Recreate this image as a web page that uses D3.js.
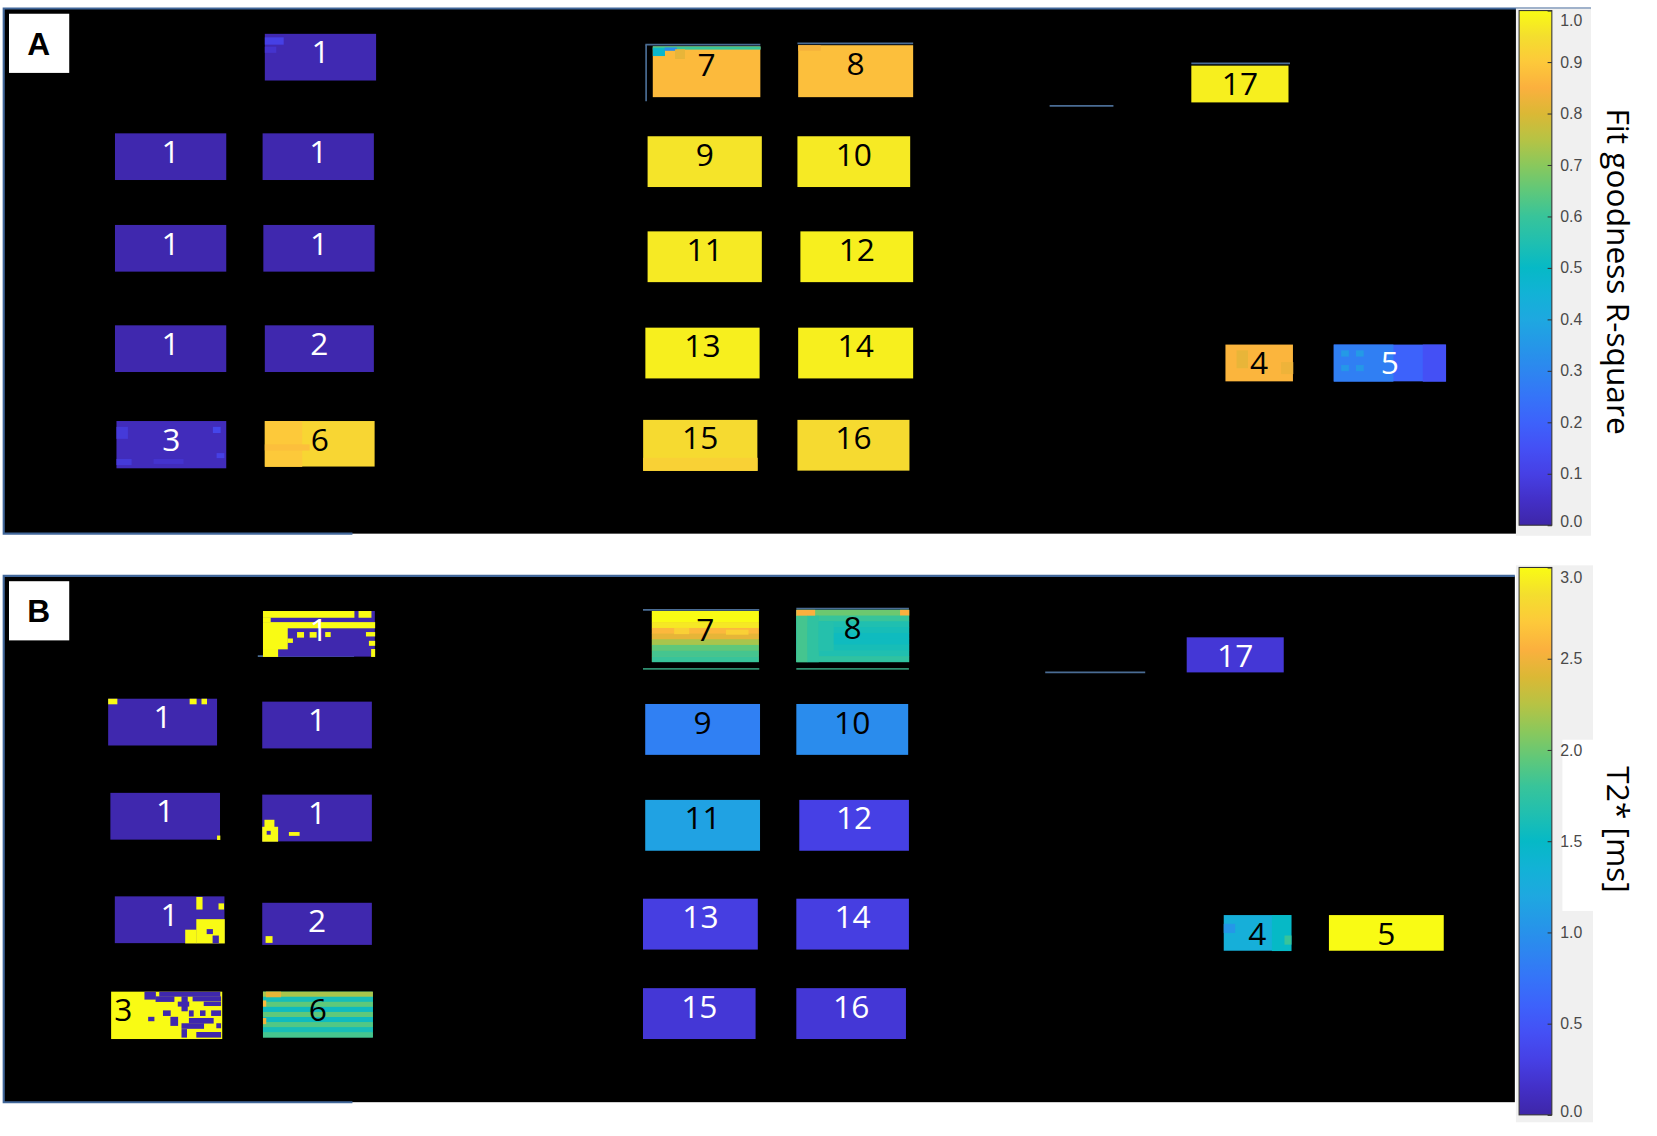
<!DOCTYPE html>
<html>
<head>
<meta charset="utf-8">
<script src="https://cdn.jsdelivr.net/npm/d3@7"></script>
<style>
  body { margin: 0; background: #fff; }
</style>
</head>
<body>
<div id="chart"></div>
<script>
// parula colour map, stops at 0, 0.05, ... 1
const parulaStops = ['#3e26a8', '#4330c8', '#4640e5', '#4450f5', '#3d62fb', '#3574f8', '#2d86f0', '#2597e8',
  '#1ea8e0', '#12b2d6', '#06b9c6', '#20bfb0', '#38c49a', '#5fc87a', '#8ac85c', '#b7c344', '#dbb835',
  '#fbb03e', '#fdc93a', '#f4de2e', '#f9fb14']

// sample order is the same in both panels
const sampleLabels = ['1', '1', '1', '1', '1', '1', '2', '3', '6', '7', '8', '9', '10', '11', '12', '13', '14', '15', '16', '17', '4', '5']

// PANEL A - fit goodness (voxel position of each sample in the image)
const aCol = [35.2, 15.0, 34.9, 15.0, 35.0, 15.0, 35.2, 15.2, 35.2, 87.5, 107.1, 86.8, 107.0, 86.8, 107.4, 86.5, 107.1, 86.2, 107.0, 160.1, 164.7, 179.3]
const aRow = [4.35, 21.4, 21.4, 37.1, 37.1, 54.3, 54.3, 70.7, 70.7, 6.5, 6.3, 21.9, 21.9, 38.2, 38.2, 54.7, 54.7, 70.5, 70.5, 9.8, 57.6, 57.6]
const aNCol = [15, 15, 15, 15, 15, 15, 14.7, 14.8, 14.8, 14.5, 15.5, 15.4, 15.2, 15.4, 15.2, 15.4, 15.5, 15.4, 15.1, 13.1, 9.1, 15.1]
const aNRow = [8, 8, 8, 8, 8, 8, 8, 8.1, 7.8, 8.7, 8.9, 8.7, 8.7, 8.7, 8.7, 8.7, 8.7, 8.7, 8.7, 6.3, 6.3, 6.3]
const aRsq = [0.015, 0.01, 0.01, 0.01, 0.01, 0.01, 0.01, 0.03, 0.93, 0.87, 0.88, 0.96, 0.97, 0.97, 0.98, 0.98, 0.98, 0.94, 0.94, 0.98, 0.86, 0.2]
// [sample, col, row, ncol, nrow, value] voxel patches inside a sample
const aPatches = [
  [0, 0, 0.6, 2.5, 1.2, 0.1], [0, 0, 2.2, 1.5, 1, 0.06],
  [7, 0, 1, 1.5, 2, 0.08], [7, 0, 6.5, 2, 1, 0.08], [7, 13, 1, 1, 1, 0.12], [7, 13.5, 5.5, 1, 0.8, 0.1], [7, 5, 6.5, 4, 0.8, 0.06],
  [8, 0, 0, 5, 7.8, 0.9], [8, 0, 4, 6, 1, 0.88],
  [9, 0, 0, 14.5, 0.5, 0.6], [9, 0, 0.3, 1.6, 1.3, 0.48], [9, 1.6, 0.2, 1.6, 0.5, 0.32], [9, 3.0, 0.5, 1.3, 1.6, 0.82],
  [10, 0, 0, 3, 0.9, 0.84],
  [17, 0, 6.5, 15.4, 2.2, 0.92],
  [20, 1.5, 1, 1.5, 3, 0.82], [20, 7.5, 3, 1.6, 2, 0.83],
  [21, 0, 0, 8, 6.3, 0.28], [21, 1, 1, 1, 1, 0.36], [21, 3, 1, 1, 1, 0.36], [21, 1, 3.5, 1, 1, 0.35], [21, 3, 3.5, 1, 1, 0.35], [21, 12, 0, 3.1, 6.3, 0.15]
]
const aTicks = [0, 0.1, 0.2, 0.3, 0.4, 0.5, 0.6, 0.7, 0.8, 0.9, 1.0]
// stray outline segments in the image [col0, col1, row0, row1]
const aEdges = [[86.5, 102, 6.2, 6.2], [86.6, 86.6, 6.2, 15.9], [107.0, 122.6, 6.0, 6.0], [160.1, 173.4, 9.4, 9.4], [141, 149.6, 16.7, 16.7]]

// PANEL B - T2* [ms]
const bCol = [35.0, 14.1, 34.9, 14.4, 34.9, 15.0, 34.9, 14.5, 35.0, 87.5, 107.0, 86.6, 107.0, 86.6, 107.4, 86.3, 107.0, 86.3, 107.0, 159.7, 164.7, 178.9]
const bRow = [6.0, 21.0, 21.5, 37.1, 37.4, 54.8, 55.9, 71.1, 71.1, 6.0, 5.8, 21.9, 21.9, 38.3, 38.3, 55.2, 55.2, 70.5, 70.5, 10.5, 58.0, 58.0]
const bNCol = [15.1, 14.7, 14.8, 14.8, 14.8, 14.8, 14.8, 15.0, 14.8, 14.4, 15.2, 15.5, 15.1, 15.5, 14.8, 15.5, 15.2, 15.2, 14.8, 13.1, 9.1, 15.5]
const bNRow = [7.8, 8, 8, 8, 8, 8, 7.2, 8.1, 7.8, 8.7, 8.9, 8.7, 8.7, 8.7, 8.7, 8.7, 8.7, 8.7, 8.7, 6.0, 6.1, 6.1]
const bT2 = [0.03, 0.03, 0.03, 0.03, 0.03, 0.03, 0.03, 3.0, 1.75, 2.4, 1.6, 0.85, 0.95, 1.15, 0.3, 0.28, 0.28, 0.22, 0.22, 0.22, 1.3, 3.0]
// row by row T2* of striped samples (top to bottom)
const bRowProfiles = {
  8: [2.2, 1.6, 1.95, 1.55, 1.95, 1.55, 1.9, 1.6, 1.85],
  9: [3.0, 3.0, 2.9, 2.6, 2.45, 2.2, 1.95, 1.85, 1.8],
  10: [2.0, 1.8, 1.65, 1.6, 1.55, 1.55, 1.6, 1.65, 1.75]
}
const bPatches = [
  [0, 0, 0, 12.3, 1.1, 3], [0, 12.9, 0, 1.7, 1.1, 3], [0, 0, 1.1, 1.0, 0.8, 3], [0, 0, 1.9, 15.1, 1.0, 3],
  [0, 0, 2.9, 3.3, 3.6, 3], [0, 0, 6.5, 2.0, 1.3, 3], [0, 4.6, 3.6, 0.9, 0.9, 3], [0, 6.3, 3.6, 0.9, 0.9, 3],
  [0, 8.4, 3.6, 0.7, 0.8, 3], [0, 3.3, 4.7, 0.7, 0.7, 3], [0, 13.9, 3.6, 1.2, 0.7, 3], [0, 14.3, 5.1, 0.8, 0.8, 3],
  [0, 14.6, 6.5, 0.5, 1.3, 3],
  [1, 0, 0, 1.2, 0.9, 3], [1, 11.0, 0, 0.9, 0.9, 3], [1, 12.6, 0, 0.7, 0.9, 3],
  [3, 14.4, 7.3, 0.4, 0.7, 3],
  [4, 0.3, 4.3, 1.3, 1.2, 3], [4, 0, 5.5, 2.1, 2.5, 3], [4, 3.6, 6.4, 1.4, 0.6, 3], [4, 0.6, 6.2, 0.5, 0.6, 0.03],
  [5, 11.0, 0.1, 0.8, 2.1, 3], [5, 14.0, 1.2, 0.7, 1.0, 3], [5, 11.0, 3.9, 3.8, 4.1, 3], [5, 9.5, 5.7, 1.5, 2.3, 3],
  [5, 12.4, 5.6, 0.8, 0.8, 0.03], [5, 13.2, 6.7, 0.8, 1.3, 0.03],
  [6, 0.45, 5.7, 0.9, 1.1, 3],
  [7, 4.5, 0, 1.5, 1.3, 0.03], [7, 6.5, 0, 8.2, 0.8, 0.03], [7, 6, 0.8, 2.5, 0.9, 0.03], [7, 9.5, 0.8, 0.8, 2.5, 0.03],
  [7, 11, 0.8, 3.8, 0.8, 0.03], [7, 9, 1.7, 1.5, 0.8, 0.03], [7, 12.5, 1.7, 2.3, 0.7, 0.03], [7, 7, 3.2, 1, 0.9, 0.03],
  [7, 10.5, 3.2, 0.6, 1, 0.03], [7, 12, 3.2, 0.7, 0.9, 0.03], [7, 13.5, 3.2, 1.3, 0.9, 0.03], [7, 5, 4.3, 0.8, 0.7, 0.03],
  [7, 8, 4.3, 1, 1.5, 0.03], [7, 10.5, 4.5, 3.3, 0.9, 0.03], [7, 9.5, 5.4, 3, 0.9, 0.03], [7, 14.2, 5.4, 0.6, 0.8, 0.03],
  [7, 9.5, 6.4, 0.7, 1.4, 0.03], [7, 11.5, 6.9, 3.3, 0.9, 0.03],
  [8, 0, 1.5, 0.4, 1, 2.6], [8, 0, 4.5, 0.4, 1, 2.5], [8, 0.4, 0, 2, 0.9, 2.45],
  [9, 3, 2.9, 2, 1, 2.75], [9, 10, 3.2, 3, 0.8, 2.75],
  [10, 0, 0, 2.5, 1.0, 2.55], [10, 14, 0, 1.2, 0.9, 2.55], [10, 0, 1, 1.5, 7.9, 1.85], [10, 1.5, 1, 1.5, 7.9, 1.75],
  [10, 3, 2, 2, 5, 1.68],
  [20, 6.5, 0, 2.6, 6.1, 1.5], [20, 8.2, 3.5, 0.9, 1.5, 1.8], [20, 0, 1.5, 1.5, 1.5, 1.05]
]
const bTicks = [0, 0.5, 1.0, 1.5, 2.0, 2.5, 3.0]
const bEdges = [[34.3, 47.3, 13.7, 13.7], [86.3, 102, 5.8, 5.8], [107, 122.2, 5.6, 5.6], [140.6, 154.1, 16.5, 16.5]]
const bGreenEdges = [[86.3, 102, 15.9, 15.9], [107, 122.2, 15.9, 15.9]]

// SVG CANVAS (drawn in a 1567 x 1075 frame, scaled to the window)
var W = 1567, H = 1075
var svg = d3.select('#chart')
  .append('svg')
  .attr('width', 1657)
  .attr('height', 1136)
  .attr('viewBox', '0 0 ' + W + ' ' + H)

function drawPanel(opts) {
  var g = svg.append('g')

  // image scales: voxel -> pixel
  var x = d3.scaleLinear().domain([0, 204]).range([opts.left, opts.right])
  var y = d3.scaleLinear().domain([0, 90]).range([opts.top, opts.bottom])
  var t = d3.scaleLinear().domain([0, opts.max]).range([0, 1]).clamp(true)
  var colour = d3.scaleLinear()
    .domain(parulaStops.map(function(d, i) { return i / (parulaStops.length - 1) }))
    .range(parulaStops)
    .interpolate(d3.interpolateRgb)
  var fill = function(v) { return colour(t(v)) }

  // BLACK IMAGE
  g.append('rect')
    .attr('x', opts.left).attr('y', opts.top)
    .attr('width', opts.right - opts.left).attr('height', opts.bottom - opts.top)
    .attr('fill', '#000')
  g.append('path')
    .attr('d', 'M' + (opts.left + 330) + ',' + opts.bottom + 'H' + opts.left + 'V' + opts.top + 'H' + opts.lineEnd)
    .attr('fill', 'none')
    .attr('stroke', '#41679a')
    .attr('stroke-width', 2)

  // STRAY EDGES
  var edges = function(list, colourStr) {
    g.selectAll(null)
      .data(list)
      .enter()
      .append('line')
      .attr('x1', function(d) { return x(d[0]) })
      .attr('x2', function(d) { return x(d[1]) })
      .attr('y1', function(d) { return y(d[2]) })
      .attr('y2', function(d) { return y(d[3]) })
      .attr('stroke', colourStr)
      .attr('stroke-width', 1.6)
  }
  edges(opts.edges, '#4a6c94')
  if (opts.greenEdges) edges(opts.greenEdges, '#2f8f70')

  var samples = opts.labels.map(function(l, i) {
    return { i: i, label: l, c: opts.col[i], r: opts.row[i], nc: opts.ncol[i], nr: opts.nrow[i], v: opts.values[i] }
  })

  // SAMPLE BASE
  g.selectAll('rect.sample')
    .data(samples)
    .enter()
    .append('rect')
    .attr('class', 'sample')
    .attr('x', function(d) { return x(d.c) })
    .attr('y', function(d) { return y(d.r) })
    .attr('width', function(d) { return x(d.c + d.nc) - x(d.c) })
    .attr('height', function(d) { return y(d.r + d.nr) - y(d.r) })
    .attr('fill', function(d) { return fill(d.v) })

  // ROW PROFILES
  var rows = []
  Object.keys(opts.profiles || {}).forEach(function(k) {
    var s = samples[+k], prof = opts.profiles[k]
    prof.forEach(function(v, j) {
      rows.push({ c: s.c, nc: s.nc, r: s.r + j * s.nr / prof.length, nr: s.nr / prof.length, v: v })
    })
  })
  // PATCHES
  opts.patches.forEach(function(p) {
    var s = samples[p[0]]
    rows.push({ c: s.c + p[1], r: s.r + p[2], nc: Math.min(p[3], s.nc - p[1]), nr: Math.min(p[4], s.nr - p[2]), v: p[5] })
  })
  g.selectAll('rect.voxel')
    .data(rows)
    .enter()
    .append('rect')
    .attr('class', 'voxel')
    .attr('x', function(d) { return x(d.c) })
    .attr('y', function(d) { return y(d.r) })
    .attr('width', function(d) { return x(d.c + d.nc) - x(d.c) + 0.3 })
    .attr('height', function(d) { return y(d.r + d.nr) - y(d.r) + 0.3 })
    .attr('fill', function(d) { return fill(d.v) })

  // SAMPLE NUMBERS
  g.selectAll('text.num')
    .data(samples)
    .enter()
    .append('text')
    .attr('class', 'num')
    .attr('x', function(d) { return opts.leftLabel === d.i ? x(d.c) + 3 : x(d.c + d.nc / 2) })
    .attr('y', function(d) { return y(d.r) + 28 })
    .attr('text-anchor', function(d) { return opts.leftLabel === d.i ? 'start' : 'middle' })
    .attr('font-family', '"Open Sans", "Noto Sans", sans-serif')
    .attr('font-size', 30)
    .attr('fill', function(d) { return t(d.v) < 0.25 ? '#fff' : '#000' })
    .text(function(d) { return d.label })

  // PANEL LETTER
  g.append('rect')
    .attr('x', opts.left + 5).attr('y', opts.top + 5)
    .attr('width', 57).attr('height', 56)
    .attr('fill', '#fff')
  g.append('text')
    .attr('x', opts.left + 33).attr('y', opts.top + 44)
    .attr('text-anchor', 'middle')
    .attr('font-family', '"Liberation Sans", Arial, sans-serif')
    .attr('font-weight', 'bold')
    .attr('font-size', 30)
    .text(opts.letter)

  // COLORBAR
  var cb = opts.cbar
  g.append('rect')
    .attr('x', cb.bgX).attr('y', cb.bgTop)
    .attr('width', cb.bgW).attr('height', cb.bgBottom - cb.bgTop)
    .attr('fill', '#f0f0f0')
  if (cb.notch) {
    g.append('rect')
      .attr('x', cb.notch[0]).attr('y', cb.notch[1])
      .attr('width', cb.notch[2]).attr('height', cb.notch[3])
      .attr('fill', '#fff')
  }
  var cy = d3.scaleLinear().domain([0, opts.max]).range([cb.y0, cb.y1])
  var gradId = 'grad' + opts.letter
  var grad = svg.append('defs').append('linearGradient')
    .attr('id', gradId)
    .attr('x1', 0).attr('x2', 0).attr('y1', 1).attr('y2', 0)
  grad.selectAll('stop')
    .data(parulaStops)
    .enter()
    .append('stop')
    .attr('offset', function(d, i) { return i / (parulaStops.length - 1) })
    .attr('stop-color', function(d) { return d })
  g.append('rect')
    .attr('x', cb.x).attr('y', cy(opts.max))
    .attr('width', cb.w).attr('height', cy(0) - cy(opts.max))
    .attr('fill', 'url(#' + gradId + ')')
    .attr('stroke', '#333')
    .attr('stroke-width', 1)

  var axis = g.append('g')
    .attr('transform', 'translate(' + (cb.x + cb.w) + ',0)')
    .call(d3.axisLeft(cy).tickValues(opts.ticks).tickSize(4).tickPadding(-12).tickFormat(d3.format('.1f')))
  axis.select('.domain').remove()
  axis.selectAll('line').attr('stroke', '#333')
  axis.selectAll('text')
    .attr('text-anchor', 'start')
    .attr('font-family', '"Liberation Sans", Arial, sans-serif')
    .attr('font-size', 15)
    .attr('fill', '#4a4a4a')
    .attr('dy', function(d) { return d === opts.max ? '0.95em' : (d === 0 ? '0.1em' : '0.32em') })

  // COLORBAR LABEL
  g.append('text')
    .attr('transform', 'translate(' + cb.labelX + ',' + cb.labelY + ') rotate(90)')
    .attr('text-anchor', 'middle')
    .attr('font-family', '"Open Sans", "Noto Sans", sans-serif')
    .attr('font-size', 30)
    .text(opts.title)
}

drawPanel({
  letter: 'A', left: 3, right: 1435, top: 8, bottom: 505, lineEnd: 1505,
  labels: sampleLabels, col: aCol, row: aRow, ncol: aNCol, nrow: aNRow, values: aRsq,
  patches: aPatches, edges: aEdges, max: 1, ticks: aTicks, title: 'Fit goodness R-square',
  cbar: { x: 1437, w: 31, y0: 497, y1: 10, bgX: 1434, bgW: 71, bgTop: 8, bgBottom: 507, labelX: 1520, labelY: 257 }
})

drawPanel({
  letter: 'B', left: 3, right: 1433, top: 545, bottom: 1043, lineEnd: 1433,
  labels: sampleLabels, col: bCol, row: bRow, ncol: bNCol, nrow: bNRow, values: bT2,
  patches: bPatches, profiles: bRowProfiles, edges: bEdges, greenEdges: bGreenEdges, leftLabel: 7,
  max: 3, ticks: bTicks, title: 'T2* [ms]',
  cbar: { x: 1437, w: 31, y0: 1055, y1: 537, bgX: 1434, bgW: 73, bgTop: 535, bgBottom: 1062, notch: [1478, 700, 32, 162], labelX: 1520, labelY: 785 }
})
</script>
</body>
</html>
